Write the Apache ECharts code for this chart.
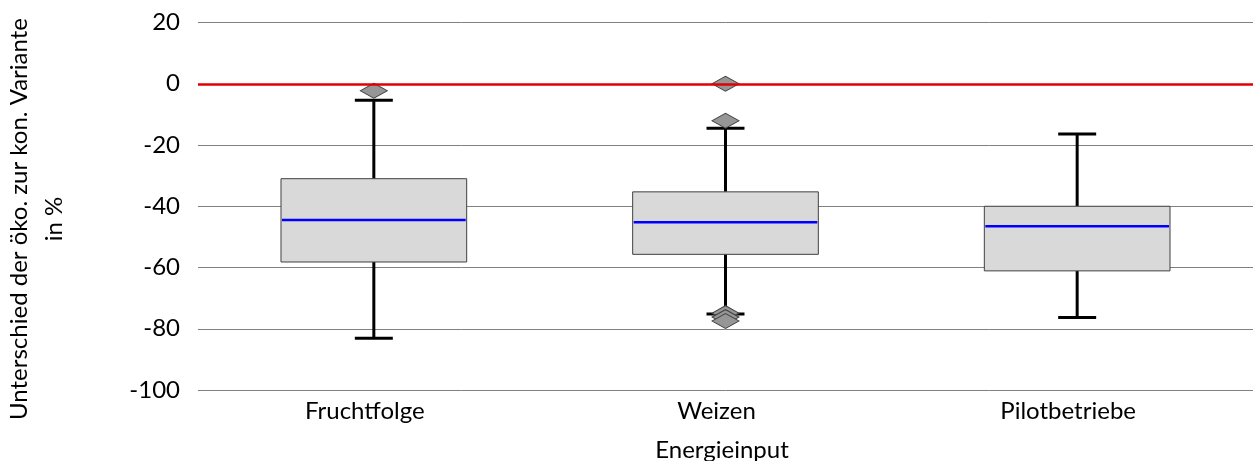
<!DOCTYPE html>
<html>
<head>
<meta charset="utf-8">
<script src="https://cdn.jsdelivr.net/npm/echarts@6/dist/echarts.min.js"></script>
<style>html,body{margin:0;padding:0;background:#fff}#c{width:1253px;height:461px}</style>
</head>
<body>
<div id="c"></div>
<script>
const categories = ['Fruchtfolge', 'Weizen', 'Pilotbetriebe'];
const whiskerLow = [-83.1, -75.2, -76.3];
const q1 = [-58.2, -55.7, -61.1];
const median = [-44.5, -45.2, -46.5];
const q3 = [-31.0, -35.3, -40.0];
const whiskerHigh = [-5.4, -14.5, -16.4];
const outliers = [[0, -2.3], [1, 0], [1, -12.1], [1, -74.9], [1, -76.2], [1, -77.5]];
const yTicks = { min: -100, max: 20, interval: 20 };
const yTitle = 'Unterschied der öko. zur kon. Variante\nin %';
const xTitle = 'Energieinput';

const FONT = 'Lato';
const FS = 24;
const boxData = categories.map((c, i) => [i, whiskerLow[i], q1[i], median[i], q3[i], whiskerHigh[i]]);

const chart = echarts.init(document.getElementById('c'), null, { renderer: 'canvas' });
chart.setOption({
  animation: false,
  grid: { left: 198, right: 0, top: 22.5, bottom: 71 },
  xAxis: {
    type: 'category', data: categories,
    axisLine: { show: false }, axisTick: { show: false },
    axisLabel: { color: '#000', fontFamily: FONT, fontSize: FS, margin: 9, padding: [0, 18, 0, 0] },
    splitLine: { show: false }
  },
  yAxis: {
    type: 'value', min: yTicks.min, max: yTicks.max, interval: yTicks.interval,
    axisLine: { show: false }, axisTick: { show: false },
    axisLabel: { color: '#000', fontFamily: FONT, fontSize: FS, margin: 18 },
    splitLine: { lineStyle: { color: '#808080', width: 1 } }
  },
  graphic: [
    { type: 'text', x: 37, y: 219, rotation: Math.PI / 2,
      style: { text: yTitle, fontFamily: FONT, fontSize: FS, fill: '#000', align: 'center', verticalAlign: 'middle', lineHeight: 35 } },
    { type: 'text', x: 722, y: 450,
      style: { text: xTitle, fontFamily: FONT, fontSize: FS, fill: '#000', align: 'center', verticalAlign: 'middle' } }
  ],
  series: [
    {
      type: 'custom',
      data: boxData,
      z: 2,
      renderItem: function (params, api) {
        const idx = api.value(0);
        const band = api.size([1, 0])[0];
        const bw = band * 0.528;
        const cw = band * 0.108;
        const pLow = api.coord([idx, api.value(1)]);
        const pQ1 = api.coord([idx, api.value(2)]);
        const pMed = api.coord([idx, api.value(3)]);
        const pQ3 = api.coord([idx, api.value(4)]);
        const pHigh = api.coord([idx, api.value(5)]);
        const x = pQ1[0];
        const black = { stroke: '#000', lineWidth: 3 };
        return {
          type: 'group',
          children: [
            { type: 'line', shape: { x1: x, y1: pQ3[1], x2: x, y2: pHigh[1] }, style: black },
            { type: 'line', shape: { x1: x, y1: pQ1[1], x2: x, y2: pLow[1] }, style: black },
            { type: 'line', shape: { x1: x - cw / 2, y1: pHigh[1], x2: x + cw / 2, y2: pHigh[1] }, style: black },
            { type: 'line', shape: { x1: x - cw / 2, y1: pLow[1], x2: x + cw / 2, y2: pLow[1] }, style: black },
            { type: 'rect', shape: { x: x - bw / 2, y: pQ3[1], width: bw, height: pQ1[1] - pQ3[1] },
              style: { fill: '#d9d9d9', stroke: '#404040', lineWidth: 1 } },
            { type: 'line', shape: { x1: x - bw / 2 + 1, y1: pMed[1], x2: x + bw / 2 - 1, y2: pMed[1] },
              style: { stroke: '#0000ff', lineWidth: 2.5 } }
          ]
        };
      },
      markLine: {
        silent: true, symbol: 'none', label: { show: false },
        lineStyle: { color: '#e00000', width: 2.5, type: 'solid' },
        data: [{ yAxis: 0 }]
      }
    },
    {
      type: 'scatter',
      data: outliers,
      z: 3,
      symbol: 'diamond',
      symbolSize: [27, 15],
      itemStyle: { color: '#969696', borderColor: '#404040', borderWidth: 1, opacity: 1 }
    }
  ]
});
</script>
</body>
</html>
